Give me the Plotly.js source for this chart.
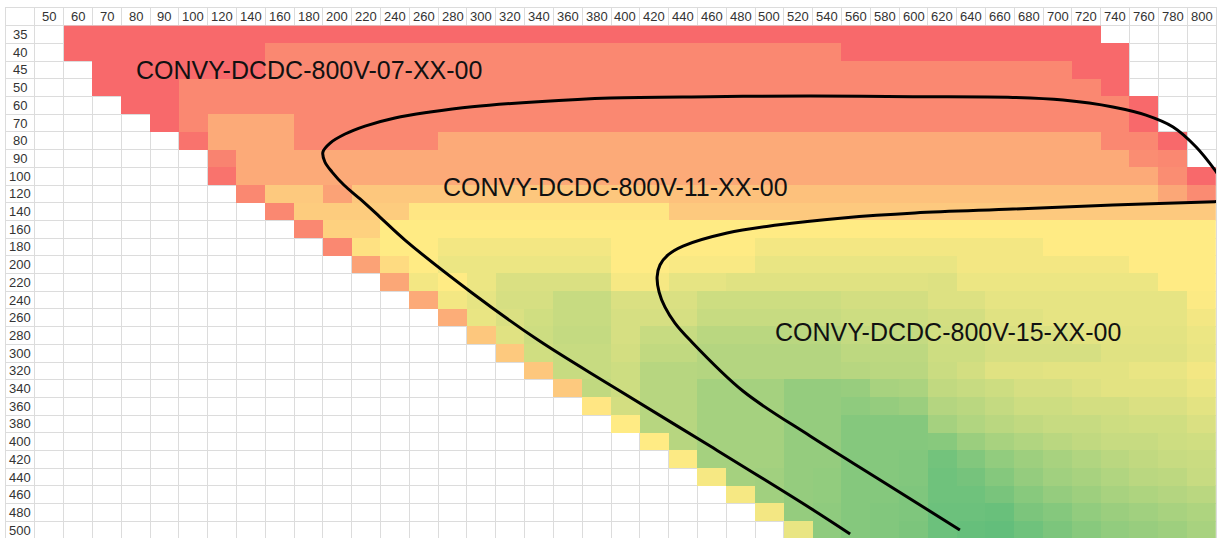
<!DOCTYPE html>
<html>
<head>
<meta charset="utf-8">
<script src="https://cdn.plot.ly/plotly-3.0.1.min.js"></script>
<style>
  html, body { margin: 0; padding: 0; background: #ffffff; overflow: hidden; }
  #chart { width: 1218px; height: 540px; }
</style>
</head>
<body>
<div id="chart"></div>
<script>
// ---- tick labels ----
const xLabels = ['50','60','70','80','90','100','120','140','160','180','200','220','240','260','280','300','320','340','360','380','400','420','440','460','480','500','520','540','560','580','600','620','640','660','680','700','720','740','760','780','800'];
const yLabels = ['35','40','45','50','60','70','80','90','100','120','140','160','180','200','220','240','260','280','300','320','340','360','380','400','420','440','460','480','500'];

const N = null;
// ---- cell values (0 = red, 50 = yellow, 100 = green), one array per row ----
const r35  = [N,0,0,0,0,0,0,0,0,0, 0,0,0,0,0,0,0,0,0,0, 0,0,0,0,0,0,0,0,0,0, 0,0,0,0,0,0,0,N,N,N, N];
const r40  = [N,0,0,0,0,0,0,0,12,12, 12,12,12,12,12,12,12,12,12,12, 12,12,12,12,12,12,12,12,0,0, 0,0,0,0,0,0,0,0,N,N, N];
const r45  = [N,N,0,0,0,0,0,0,12,12, 12,12,12,12,12,12,12,12,12,12, 12,12,12,12,12,12,12,12,12,12, 12,12,12,12,12,12,0,0,N,N, N];
const r50  = [N,N,0,0,0,12,12,12,12,12, 12,12,12,12,12,12,12,12,12,12, 12,12,12,12,12,12,12,12,12,12, 12,12,12,12,12,12,12,0,N,N, N];
const r60  = [N,N,N,0,0,12,12,12,12,12, 12,12,12,12,12,12,12,12,12,12, 12,12,12,12,12,12,12,12,12,12, 12,12,12,12,12,12,12,12,0,N, N];
const r70  = [N,N,N,N,0,12,25,25,25,12, 12,12,12,12,12,12,12,12,12,12, 12,12,12,12,12,12,12,12,12,12, 12,12,12,12,12,12,12,12,0,N, N];
const r80  = [N,N,N,N,N,4,25,25,25,12, 12,12,12,12,25,25,25,25,25,25, 25,25,25,25,25,25,25,25,25,25, 25,25,25,25,25,25,25,12,12,0, N];
const r90  = [N,N,N,N,N,N,10,25,25,25, 25,25,25,25,25,25,25,25,25,25, 25,25,25,25,25,25,25,25,25,25, 25,25,25,25,25,25,25,25,14,12, N];
const r100 = [N,N,N,N,N,N,4,25,25,25, 25,25,25,25,25,25,25,25,25,25, 25,25,25,25,25,25,25,25,25,25, 25,25,25,25,25,25,25,25,25,14, 0];
const r120 = [N,N,N,N,N,N,N,12,37,37, 22,36,36,36,36,36,36,36,36,36, 36,36,34,34,34,34,34,34,34,34, 34,34,34,34,34,34,34,34,34,24, 13];
const r140 = [N,N,N,N,N,N,N,N,12,38, 38,38,38,48,48,48,48,48,48,48, 48,48,37,37,37,37,37,37,37,37, 37,37,37,37,37,37,37,37,37,37, 37];
const r160 = [N,N,N,N,N,N,N,N,N,12, 40,40,50,50,50,50,50,50,50,50, 50,50,50,50,50,50,50,50,50,50, 50,50,50,50,50,50,50,50,50,50, 50];
const r180 = [N,N,N,N,N,N,N,N,N,N, 12,46,50,50,54,54,54,54,54,54, 50,50,50,50,50,54,54,54,54,54, 54,54,54,54,54,50,50,50,50,50, 50];
const r200 = [N,N,N,N,N,N,N,N,N,N, N,22,44,50,56,56,56,56,56,56, 50,50,52,52,52,57,57,57,57,57, 57,57,54,54,54,54,54,54,50,50, 50];
const r220 = [N,N,N,N,N,N,N,N,N,N, N,N,24,54,50,56,62,62,62,62, 53,53,58,58,60,60,60,60,60,60, 60,61,56,56,56,56,56,56,56,50, 50];
const r240 = [N,N,N,N,N,N,N,N,N,N, N,N,N,25,54,58,63,63,68,68, 62,62,62,66,66,66,66,66,64,64, 64,61,61,58,58,58,58,58,58,58, 51];
const r260 = [N,N,N,N,N,N,N,N,N,N, N,N,N,N,26,57,62,65,68,68, 63,63,63,68,68,68,68,68,66,66, 66,64,64,60,60,58,58,58,58,58, 54];
const r280 = [N,N,N,N,N,N,N,N,N,N, N,N,N,N,N,36,60,66,69,69, 63,68,68,72,72,72,72,72,69,69, 69,65,65,62,62,62,59,59,59,59, 56];
const r300 = [N,N,N,N,N,N,N,N,N,N, N,N,N,N,N,N,37,65,68,68, 64,70,70,74,74,74,74,74,71,71, 71,66,66,63,63,63,63,60,60,60, 57];
const r320 = [N,N,N,N,N,N,N,N,N,N, N,N,N,N,N,N,N,36,68,68, 66,73,73,74,74,74,74,74,73,72, 72,67,64,60,60,59,59,59,57,57, 54];
const r340 = [N,N,N,N,N,N,N,N,N,N, N,N,N,N,N,N,N,N,37,70, 66,73,73,79,79,79,84,84,83,78, 77,70,68,66,63,63,61,59,59,59, 56];
const r360 = [N,N,N,N,N,N,N,N,N,N, N,N,N,N,N,N,N,N,N,48, 64,73,73,79,79,79,84,84,86,84, 82,74,72,69,66,66,64,64,62,62, 59];
const r380 = [N,N,N,N,N,N,N,N,N,N, N,N,N,N,N,N,N,N,N,N, 50,73,73,79,79,79,84,84,89,89, 89,79,75,72,70,68,68,66,65,65, 62];
const r400 = [N,N,N,N,N,N,N,N,N,N, N,N,N,N,N,N,N,N,N,N, N,50,73,79,79,79,84,84,89,89, 89,88,82,78,75,72,70,68,68,66, 65];
const r420 = [N,N,N,N,N,N,N,N,N,N, N,N,N,N,N,N,N,N,N,N, N,N,51,79,79,79,84,84,89,89, 90,95,90,85,81,78,75,72,70,68, 67];
const r440 = [N,N,N,N,N,N,N,N,N,N, N,N,N,N,N,N,N,N,N,N, N,N,N,53,79,80,84,85,89,89, 90,96,94,89,84,80,78,75,72,71, 68];
const r460 = [N,N,N,N,N,N,N,N,N,N, N,N,N,N,N,N,N,N,N,N, N,N,N,N,53,80,84,85,89,89, 91,96,96,93,88,84,81,78,76,74, 72];
const r480 = [N,N,N,N,N,N,N,N,N,N, N,N,N,N,N,N,N,N,N,N, N,N,N,N,N,54,84,86,89,90, 91,97,97,98,92,89,85,82,80,78, 76];
const r500 = [N,N,N,N,N,N,N,N,N,N, N,N,N,N,N,N,N,N,N,N, N,N,N,N,N,N,57,86,89,90, 92,97,99,100,96,92,88,85,83,81, 78];

// ---- boundary curves (column index, row index) ----
const curve07x = [40.81,40.46,39.81,39.01,38.07,36.92,35.19,33.45,29.98,26.41,22.94,19.47,16.97,14.68,13.22,12.0,10.96,10.27,9.75,9.50,9.57,9.82,10.23,10.79,11.48,12.35,14.68,16.97,19.47,22.94,26.41,27.80];
const curve07y = [8.50,7.65,6.35,5.22,4.55,4.09,3.70,3.55,3.51,3.47,3.51,3.58,3.79,4.08,4.38,4.71,5.17,5.62,6.13,6.64,7.20,7.77,8.50,9.29,10.31,11.61,14.60,17.26,19.80,23.25,26.75,28.22];
const curve11x = [40.81,40.46,36.92,33.45,30.05,27.55,25.26,23.53,22.0,21.48,21.20,21.10,21.17,21.37,21.72,22.24,24.08,26.41,28.73,31.61];
const curve11y = [9.43,9.44,9.63,9.86,10.08,10.36,10.76,11.21,11.95,12.45,13.02,13.70,14.55,15.39,16.30,17.26,20.14,22.68,25.05,27.99];

// ---- region labels ----
const regionNames = ['CONVY-DCDC-800V-07-XX-00','CONVY-DCDC-800V-11-XX-00','CONVY-DCDC-800V-15-XX-00'];
const regionX = [9.02, 19.64, 31.2];
const regionY = [2.0, 8.61, 16.8];

const z = [r35,r40,r45,r50,r60,r70,r80,r90,r100,r120,r140,r160,r180,r200,r220,r240,r260,r280,r300,r320,r340,r360,r380,r400,r420,r440,r460,r480,r500];
const xIdx = xLabels.map((_, i) => i);
const yIdx = yLabels.map((_, j) => j);

const heat = {
  type: 'heatmap',
  x: xIdx, y: yIdx, z: z,
  zmin: 0, zmax: 100,
  colorscale: [[0, '#F8696B'], [0.5, '#FFEB84'], [1, '#63BE7B']],
  showscale: false,
  hoverinfo: 'skip',
  xgap: 0, ygap: 0
};
const lineStyle = { color: '#000000', width: 3, shape: 'spline', smoothing: 1 };
const c1 = { type: 'scatter', mode: 'lines', x: curve07x, y: curve07y, line: lineStyle, hoverinfo: 'skip' };
const c2 = { type: 'scatter', mode: 'lines', x: curve11x, y: curve11y, line: lineStyle, hoverinfo: 'skip' };

const labelFont = { family: '"Liberation Sans", Arial, Helvetica, sans-serif', size: 13, color: '#333333' };
const annotations = [];
xLabels.forEach((t, i) => annotations.push({ x: i, y: -1, xref: 'x', yref: 'y', text: t, showarrow: false, font: labelFont }));
yLabels.forEach((t, j) => annotations.push({ x: -1, y: j, xref: 'x', yref: 'y', text: t, showarrow: false, font: labelFont }));
regionNames.forEach((t, k) => annotations.push({ x: regionX[k], y: regionY[k], xref: 'x', yref: 'y', text: t, showarrow: false,
  font: { family: '"Liberation Sans", Arial, Helvetica, sans-serif', size: 25, color: '#111111' } }));

const gridColor = '#dcdcdc';
const layout = {
  width: 1218, height: 540,
  margin: { l: 6, r: 2, t: 8, b: 1, pad: 0 },
  paper_bgcolor: '#ffffff', plot_bgcolor: '#ffffff',
  showlegend: false,
  xaxis: { range: [-1.5, 40.5], tickmode: 'linear', tick0: -0.5, dtick: 1, showticklabels: false, ticks: '',
           showgrid: true, gridcolor: gridColor, gridwidth: 1, zeroline: false,
           showline: true, linecolor: gridColor, linewidth: 1, mirror: true, fixedrange: true },
  yaxis: { range: [28.5, -1.5], tickmode: 'linear', tick0: -0.5, dtick: 1, showticklabels: false, ticks: '',
           showgrid: true, gridcolor: gridColor, gridwidth: 1, zeroline: false,
           showline: true, linecolor: gridColor, linewidth: 1, mirror: true, fixedrange: true },
  annotations: annotations
};
Plotly.newPlot('chart', [heat, c1, c2], layout, { staticPlot: true, displayModeBar: false });
</script>
</body>
</html>
